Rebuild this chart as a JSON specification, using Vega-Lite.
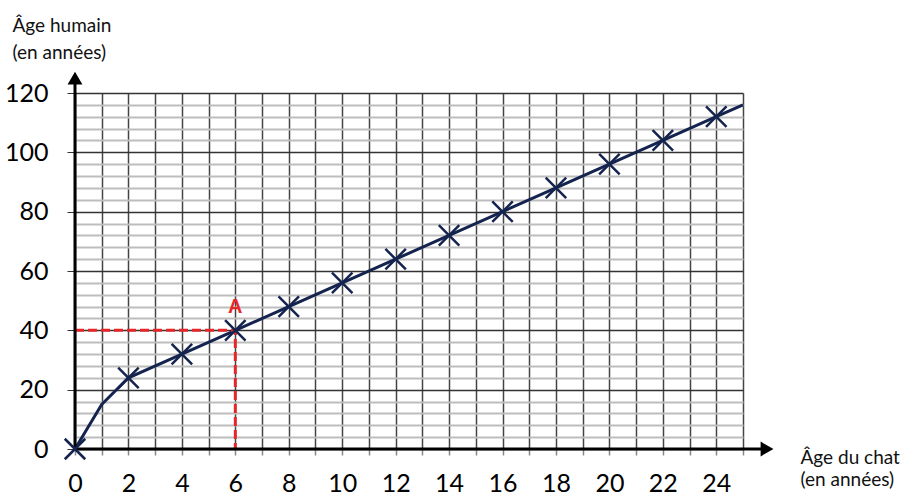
{
  "$schema": "https://vega.github.io/schema/vega-lite/v6.json",
  "width": 668,
  "height": 356,
  "autosize": "none",
  "padding": {"left": 75, "top": 93, "right": 161, "bottom": 47},
  "config": {"view": {"stroke": null}, "font": "Lato"},
  "datasets": {
    "courbe": [
      {"chat": 0, "humain": 0},
      {"chat": 1, "humain": 15},
      {"chat": 2, "humain": 24},
      {"chat": 4, "humain": 32},
      {"chat": 6, "humain": 40},
      {"chat": 8, "humain": 48},
      {"chat": 10, "humain": 56},
      {"chat": 12, "humain": 64},
      {"chat": 14, "humain": 72},
      {"chat": 16, "humain": 80},
      {"chat": 18, "humain": 88},
      {"chat": 20, "humain": 96},
      {"chat": 22, "humain": 104},
      {"chat": 24, "humain": 112},
      {"chat": 25, "humain": 116}
    ],
    "lecture": [
      {"chat": 0, "humain": 40, "ordre": 1},
      {"chat": 6, "humain": 40, "ordre": 2},
      {"chat": 6, "humain": 0, "ordre": 3}
    ],
    "axes": [
      {"chat": 0, "humain": 0, "chat2": 0, "humain2": 124},
      {"chat": 0, "humain": 0, "chat2": 25.8, "humain2": 0}
    ],
    "fleches": [
      {"chat": 0, "humain": 125, "forme": "triangle-up"},
      {"chat": 25.9, "humain": 0, "forme": "triangle-right"}
    ],
    "point": [{"chat": 6, "humain": 40, "nom": "A"}]
  },
  "layer": [
    {
      "data": {"name": "courbe"},
      "mark": {"type": "line", "color": "#14244f", "strokeWidth": 3},
      "encoding": {
        "x": {
          "field": "chat",
          "type": "quantitative",
          "scale": {"domain": [0, 25], "nice": false},
          "axis": {
            "values": [0,1,2,3,4,5,6,7,8,9,10,11,12,13,14,15,16,17,18,19,20,21,22,23,24,25],
            "tickCount": 100,
            "format": "d",
            "labelExpr": "datum.value % 2 === 0 && datum.value < 25 ? datum.label : ''",
            "labelOverlap": false,
            "labelBound": false,
            "grid": true,
            "gridColor": "#444",
            "gridWidth": 1.5,
            "domain": false,
            "tickSize": 6,
            "tickColor": "#888",
            "tickWidth": 1.5,
            "labelFontSize": 25,
            "labelColor": "#000",
            "labelPadding": 16,
            "labelFlush": false,
            "title": ["Âge du chat", "(en années)"],
            "titleFontSize": 19,
            "titleFontWeight": "normal",
            "titleColor": "#111",
            "titleX": 725,
            "titleY": 14,
            "titleAlign": "left",
            "titleBaseline": "alphabetic",
            "titleLineHeight": 22
          }
        },
        "y": {
          "field": "humain",
          "type": "quantitative",
          "scale": {"domain": [0, 120], "nice": false},
          "axis": {
            "values": [0,4,8,12,16,20,24,28,32,36,40,44,48,52,56,60,64,68,72,76,80,84,88,92,96,100,104,108,112,116,120],
            "tickCount": 100,
            "format": "d",
            "labelExpr": "datum.value % 20 === 0 ? datum.label : ''",
            "labelOverlap": false,
            "labelBound": false,
            "grid": true,
            "gridColor": {"condition": {"test": "datum.value % 20 === 0", "value": "#333"}, "value": "#bdbdbd"},
            "gridWidth": {"condition": {"test": "datum.value % 20 === 0", "value": 1.5}, "value": 1.8},
            "domain": false,
            "tickSize": 8,
            "tickColor": "#333",
            "tickOpacity": {"condition": {"test": "datum.value % 20 === 0", "value": 1}, "value": 0},
            "labelFontSize": 25,
            "labelColor": "#000",
            "labelPadding": 19,
            "labelFlush": false,
            "title": ["Âge humain", "(en années)"],
            "titleFontSize": 19,
            "titleFontWeight": "normal",
            "titleColor": "#111",
            "titleAngle": 0,
            "titleX": -63,
            "titleY": -62,
            "titleAlign": "left",
            "titleBaseline": "alphabetic",
            "titleLineHeight": 27
          }
        }
      }
    },
    {
      "data": {"name": "lecture"},
      "mark": {"type": "line", "color": "#e8262a", "strokeWidth": 3, "strokeDash": [9, 4]},
      "encoding": {
        "x": {"field": "chat", "type": "quantitative"},
        "y": {"field": "humain", "type": "quantitative"},
        "order": {"field": "ordre", "type": "quantitative"}
      }
    },
    {
      "data": {"name": "axes"},
      "mark": {"type": "rule", "color": "#000", "strokeWidth": 3},
      "encoding": {
        "x": {"field": "chat", "type": "quantitative"},
        "y": {"field": "humain", "type": "quantitative"},
        "x2": {"field": "chat2"},
        "y2": {"field": "humain2"}
      }
    },
    {
      "data": {"name": "fleches"},
      "mark": {"type": "point", "filled": true, "color": "#000", "size": 220, "opacity": 1},
      "encoding": {
        "x": {"field": "chat", "type": "quantitative"},
        "y": {"field": "humain", "type": "quantitative"},
        "shape": {"field": "forme", "type": "nominal", "scale": null}
      }
    },
    {
      "data": {"name": "courbe"},
      "transform": [{"filter": "datum.chat % 2 === 0 && datum.chat <= 24"}],
      "mark": {
        "type": "point",
        "shape": "M-1,-1L1,1M-1,1L1,-1",
        "filled": false,
        "stroke": "#14244f",
        "strokeWidth": 2.5,
        "size": 420,
        "opacity": 1
      },
      "encoding": {
        "x": {"field": "chat", "type": "quantitative"},
        "y": {"field": "humain", "type": "quantitative"}
      }
    },
    {
      "data": {"name": "point"},
      "mark": {"type": "text", "color": "#e8262a", "font": "Liberation Sans", "fontSize": 20, "fontWeight": "bold", "dy": -23},
      "encoding": {
        "x": {"field": "chat", "type": "quantitative"},
        "y": {"field": "humain", "type": "quantitative"},
        "text": {"field": "nom"}
      }
    }
  ]
}
